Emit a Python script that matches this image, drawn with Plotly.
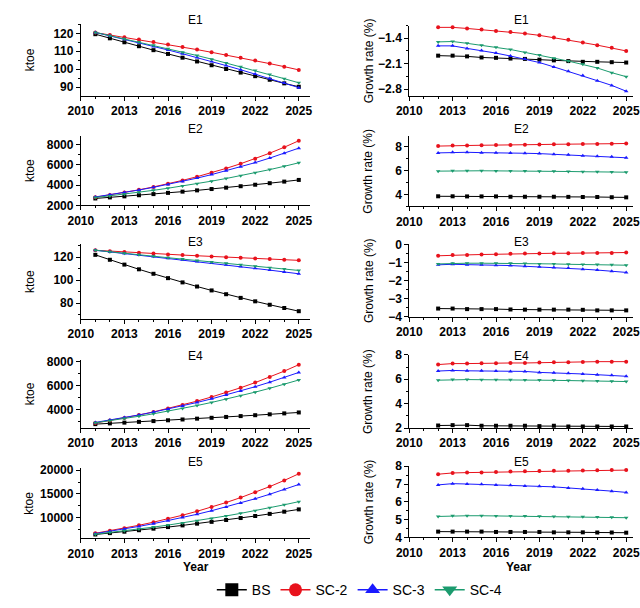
import plotly.graph_objects as go

W, H = 640, 608

years_level = list(range(2011, 2026))
years_rate = list(range(2012, 2026))

series_names = ["BS", "SC-2", "SC-3", "SC-4"]
series_colors = ["#000000", "#e8121c", "#1a1aff", "#1b9b6e"]
series_symbols = ["square", "circle", "triangle-up", "triangle-down"]

# Energy use (ktoe), 2011-2025
e1_bs = [119.5, 117.2, 115.0, 112.8, 110.6, 108.5, 106.4, 104.3, 102.2, 100.1, 98.1, 96.1, 94.1, 92.1, 90.2]
e1_sc2 = [120.4, 119.1, 117.8, 116.5, 115.1, 113.7, 112.3, 110.9, 109.4, 107.9, 106.4, 104.8, 103.1, 101.4, 99.6]
e1_sc3 = [120.5, 118.6, 116.7, 114.7, 112.7, 110.7, 108.6, 106.5, 104.3, 102.0, 99.7, 97.3, 94.8, 92.3, 89.7]
e1_sc4 = [120.5, 118.7, 116.9, 115.1, 113.3, 111.4, 109.5, 107.6, 105.6, 103.5, 101.4, 99.2, 97.0, 94.7, 92.4]

e2_bs = [2680, 2783, 2889, 2999, 3113, 3232, 3354, 3481, 3613, 3750, 3892, 4040, 4193, 4350, 4515]
e2_sc2 = [2800, 3026, 3271, 3536, 3823, 4134, 4470, 4835, 5230, 5658, 6121, 6623, 7166, 7755, 8396]
e2_sc3 = [2830, 3042, 3271, 3517, 3781, 4065, 4369, 4695, 5043, 5415, 5811, 6231, 6680, 7157, 7663]
e2_sc4 = [2765, 2930, 3105, 3290, 3486, 3694, 3914, 4147, 4394, 4656, 4933, 5226, 5537, 5865, 6213]

e3_bs = [122.0, 117.7, 113.5, 109.4, 105.5, 101.7, 98.0, 94.4, 91.0, 87.7, 84.5, 81.5, 78.5, 75.7, 72.9]
e3_sc2 = [126.0, 125.2, 124.5, 123.8, 123.1, 122.4, 121.8, 121.2, 120.6, 120.0, 119.4, 118.8, 118.3, 117.7, 117.2]
e3_sc3 = [126.0, 124.6, 123.2, 121.8, 120.5, 119.1, 117.7, 116.3, 114.8, 113.3, 111.8, 110.3, 108.7, 107.1, 105.5]
e3_sc4 = [126.0, 124.6, 123.3, 122.0, 120.8, 119.5, 118.3, 117.1, 115.8, 114.6, 113.3, 112.1, 110.8, 109.6, 108.4]

e4_bs = [2780, 2841, 2905, 2969, 3034, 3100, 3168, 3237, 3307, 3379, 3451, 3524, 3599, 3676, 3754]
e4_sc2 = [2870, 3077, 3301, 3542, 3801, 4080, 4379, 4701, 5047, 5418, 5817, 6246, 6708, 7206, 7742]
e4_sc3 = [2920, 3115, 3324, 3546, 3783, 4035, 4303, 4589, 4890, 5210, 5548, 5905, 6281, 6678, 7094]
e4_sc4 = [2890, 3061, 3244, 3438, 3643, 3860, 4090, 4333, 4590, 4862, 5148, 5451, 5771, 6109, 6465]

e5_bs = [6550, 6834, 7130, 7439, 7761, 8095, 8443, 8806, 9184, 9575, 9982, 10406, 10848, 11307, 11786]
e5_sc2 = [6800, 7313, 7870, 8470, 9118, 9818, 10574, 11390, 12271, 13221, 14247, 15353, 16546, 17833, 19220]
e5_sc3 = [6725, 7192, 7697, 8236, 8810, 9422, 10075, 10769, 11509, 12296, 13130, 14014, 14949, 15946, 16988]
e5_sc4 = [6600, 6942, 7304, 7685, 8085, 8506, 8949, 9414, 9903, 10416, 10956, 11523, 12119, 12746, 13397]

# Annual growth rate (%), 2012-2025
g1_bs = [-1.88, -1.88, -1.90, -1.93, -1.94, -1.96, -1.97, -1.99, -2.01, -2.03, -2.05, -2.05, -2.06, -2.07]
g1_sc2 = [-1.10, -1.10, -1.13, -1.16, -1.20, -1.23, -1.27, -1.32, -1.38, -1.44, -1.52, -1.59, -1.66, -1.75]
g1_sc3 = [-1.61, -1.61, -1.68, -1.74, -1.81, -1.89, -1.97, -2.07, -2.19, -2.31, -2.43, -2.57, -2.70, -2.86]
g1_sc4 = [-1.50, -1.49, -1.54, -1.59, -1.65, -1.71, -1.79, -1.86, -1.95, -2.03, -2.12, -2.22, -2.35, -2.46]

g2_bs = [3.84, 3.84, 3.83, 3.83, 3.83, 3.80, 3.80, 3.80, 3.80, 3.79, 3.78, 3.78, 3.76, 3.75]
g2_sc2 = [8.05, 8.10, 8.10, 8.12, 8.15, 8.15, 8.17, 8.18, 8.20, 8.20, 8.22, 8.23, 8.25, 8.27]
g2_sc3 = [7.48, 7.53, 7.53, 7.50, 7.50, 7.48, 7.45, 7.42, 7.37, 7.32, 7.23, 7.20, 7.15, 7.07]
g2_sc4 = [5.95, 5.98, 5.98, 5.98, 5.97, 5.97, 5.96, 5.95, 5.93, 5.92, 5.90, 5.89, 5.87, 5.86]

g3_bs = [-3.55, -3.55, -3.58, -3.58, -3.58, -3.60, -3.61, -3.61, -3.61, -3.61, -3.62, -3.65, -3.65, -3.65]
g3_sc2 = [-0.63, -0.59, -0.58, -0.56, -0.54, -0.52, -0.50, -0.50, -0.49, -0.49, -0.47, -0.47, -0.47, -0.45]
g3_sc3 = [-1.13, -1.10, -1.12, -1.13, -1.15, -1.17, -1.21, -1.24, -1.28, -1.31, -1.37, -1.42, -1.48, -1.55]
g3_sc4 = [-1.08, -1.04, -1.04, -1.04, -1.04, -1.04, -1.06, -1.08, -1.08, -1.10, -1.11, -1.11, -1.13, -1.15]

g4_bs = [2.21, 2.24, 2.24, 2.19, 2.19, 2.19, 2.19, 2.16, 2.19, 2.13, 2.13, 2.13, 2.13, 2.13]
g4_sc2 = [7.20, 7.28, 7.28, 7.31, 7.31, 7.33, 7.33, 7.36, 7.38, 7.38, 7.41, 7.44, 7.44, 7.44]
g4_sc3 = [6.67, 6.72, 6.69, 6.69, 6.67, 6.64, 6.64, 6.56, 6.53, 6.48, 6.43, 6.37, 6.32, 6.24]
g4_sc4 = [5.92, 5.97, 5.97, 5.96, 5.96, 5.95, 5.94, 5.93, 5.91, 5.89, 5.87, 5.85, 5.83, 5.81]

g5_bs = [4.33, 4.33, 4.33, 4.33, 4.31, 4.31, 4.31, 4.31, 4.29, 4.29, 4.29, 4.28, 4.28, 4.27]
g5_sc2 = [7.55, 7.62, 7.64, 7.65, 7.68, 7.70, 7.72, 7.73, 7.74, 7.75, 7.76, 7.77, 7.78, 7.78]
g5_sc3 = [6.95, 7.02, 7.00, 6.98, 6.95, 6.93, 6.89, 6.87, 6.84, 6.78, 6.73, 6.67, 6.60, 6.53]
g5_sc4 = [5.18, 5.22, 5.22, 5.22, 5.21, 5.21, 5.20, 5.19, 5.18, 5.17, 5.16, 5.15, 5.13, 5.11]

panel_titles = ["E1", "E2", "E3", "E4", "E5"]
level_sets = [
    [e1_bs, e1_sc2, e1_sc3, e1_sc4],
    [e2_bs, e2_sc2, e2_sc3, e2_sc4],
    [e3_bs, e3_sc2, e3_sc3, e3_sc4],
    [e4_bs, e4_sc2, e4_sc3, e4_sc4],
    [e5_bs, e5_sc2, e5_sc3, e5_sc4],
]
rate_sets = [
    [g1_bs, g1_sc2, g1_sc3, g1_sc4],
    [g2_bs, g2_sc2, g2_sc3, g2_sc4],
    [g3_bs, g3_sc2, g3_sc3, g3_sc4],
    [g4_bs, g4_sc2, g4_sc3, g4_sc4],
    [g5_bs, g5_sc2, g5_sc3, g5_sc4],
]

# panel geometry in pixels: (top, bottom) and y-axis settings
left_rows = [
    dict(top=17, bottom=91, range=[85.1, 125.4], dtick=10, tick0=0, minor=5),
    dict(top=132, bottom=203, range=[2000, 8870], dtick=2000, tick0=0, minor=1000),
    dict(top=243, bottom=319, range=[66.4, 131.1], dtick=20, tick0=0, minor=10),
    dict(top=361, bottom=431, range=[2450, 8160], dtick=2000, tick0=0, minor=1000),
    dict(top=472, bottom=544, range=[5714, 20400], dtick=5000, tick0=0, minor=2500),
]
right_rows = [
    dict(top=19, bottom=91, range=[-2.99, -1.05], dtick=0.7, tick0=-1.4, minor=0.35),
    dict(top=132, bottom=204, range=[3.0, 8.9], dtick=2, tick0=0, minor=1),
    dict(top=243, bottom=317, range=[-4, 0], dtick=1, tick0=0, minor=0.5),
    dict(top=356, bottom=431, range=[2, 8], dtick=2, tick0=0, minor=1),
    dict(top=470, bottom=543, range=[4, 8], dtick=1, tick0=0, minor=0.5),
]
title_y = [13, 125, 241, 357, 466]

LEFT_X = (70, 307)
RIGHT_X = (409, 640)
LEFT_XRANGE = [2010, 2025.8]
RIGHT_XRANGE = [2010, 2025.47]

FONT = "Liberation Sans, Arial, sans-serif"
tick_font = dict(family=FONT, size=12, color="black", weight="bold")

fig = go.Figure()
layout = dict(
    width=W, height=H,
    margin=dict(l=0, r=0, t=0, b=0),
    paper_bgcolor="white", plot_bgcolor="white",
    showlegend=True,
    font=dict(family=FONT, color="black"),
)
annotations = []


def px_x(p):
    return p / W


def px_y(p):
    return 1 - p / H


def axis_common():
    return dict(
        showline=True, linecolor="black", linewidth=1,
        ticks="outside", ticklen=4, tickwidth=1, tickcolor="black",
        showgrid=False, zeroline=False, tickfont=tick_font,
        mirror=False, ticklabeloverflow="allow", tickformat="d",
    )


idx = 0
for r in range(5):
    for side in ("left", "right"):
        idx += 1
        xname = "xaxis" if idx == 1 else f"xaxis{idx}"
        yname = "yaxis" if idx == 1 else f"yaxis{idx}"
        xref = "x" if idx == 1 else f"x{idx}"
        yref = "y" if idx == 1 else f"y{idx}"
        if side == "left":
            geo = left_rows[r]
            xd = LEFT_X
            xr = LEFT_XRANGE
            xs = years_level
            data = level_sets[r]
            ytitle = "ktoe"
            ytitle_x = 17
        else:
            geo = right_rows[r]
            xd = RIGHT_X
            xr = RIGHT_XRANGE
            xs = years_rate
            data = rate_sets[r]
            ytitle = "Growth rate (%)"
            ytitle_x = 367

        xa = axis_common()
        xa.update(domain=[px_x(xd[0]), px_x(xd[1])], range=xr, anchor=yref,
                  tick0=2010, dtick=3,
                  minor=dict(dtick=1, tick0=2010, ticks="outside", ticklen=2,
                             tickcolor="black", showgrid=False))
        ya = axis_common()
        if side == "right":
            ya["tickformat"] = ""
        ya.update(domain=[px_y(geo["bottom"]), px_y(geo["top"])], range=geo["range"],
                  anchor=xref, tick0=geo["tick0"], dtick=geo["dtick"],
                  minor=dict(dtick=geo["minor"], tick0=geo["tick0"], ticks="outside",
                             ticklen=2, tickcolor="black", showgrid=False))
        layout[xname] = xa
        layout[yname] = ya

        for s in range(4):
            fig.add_trace(go.Scatter(
                x=xs, y=data[s], xaxis=xref, yaxis=yref,
                mode="lines+markers",
                name=series_names[s], legendgroup=series_names[s],
                showlegend=False,
                line=dict(color=series_colors[s], width=1),
                marker=dict(color=series_colors[s], symbol=series_symbols[s], size=4),
                cliponaxis=False,
            ))

        cx = (xd[0] + xd[1]) / 2
        annotations.append(dict(
            text=panel_titles[r], x=px_x(cx), y=px_y(title_y[r]),
            xref="paper", yref="paper", showarrow=False,
            xanchor="center", yanchor="middle",
            font=dict(family=FONT, size=12, color="black"),
        ))
        cy = (geo["top"] + geo["bottom"]) / 2
        annotations.append(dict(
            text=ytitle, x=px_x(ytitle_x), y=px_y(cy),
            xref="paper", yref="paper", showarrow=False, textangle=-90,
            xanchor="center", yanchor="middle",
            font=dict(family=FONT, size=12, color="black"),
        ))

# legend entries drawn with larger symbols than the data markers
for s in range(4):
    fig.add_trace(go.Scatter(
        x=[None], y=[None], mode="lines+markers",
        name=series_names[s], legendgroup=series_names[s], showlegend=True,
        line=dict(color=series_colors[s], width=1.5),
        marker=dict(color=series_colors[s], symbol=series_symbols[s], size=13),
    ))

for cx in ((LEFT_X[0] + LEFT_X[1]) / 2, (RIGHT_X[0] + 636) / 2):
    annotations.append(dict(
        text="Year", x=px_x(cx), y=px_y(573),
        xref="paper", yref="paper", showarrow=False,
        xanchor="center", yanchor="middle",
        font=dict(family=FONT, size=12, color="black", weight="bold"),
    ))

layout["annotations"] = annotations
layout["legend"] = dict(
    orientation="h", x=px_x(358), y=px_y(597),
    xanchor="center", yanchor="middle",
    itemwidth=30,
    font=dict(family=FONT, size=14, color="black"),
    bgcolor="rgba(0,0,0,0)",
    tracegroupgap=0,
)
fig.update_layout(**layout)

fig.write_html("out.html")
